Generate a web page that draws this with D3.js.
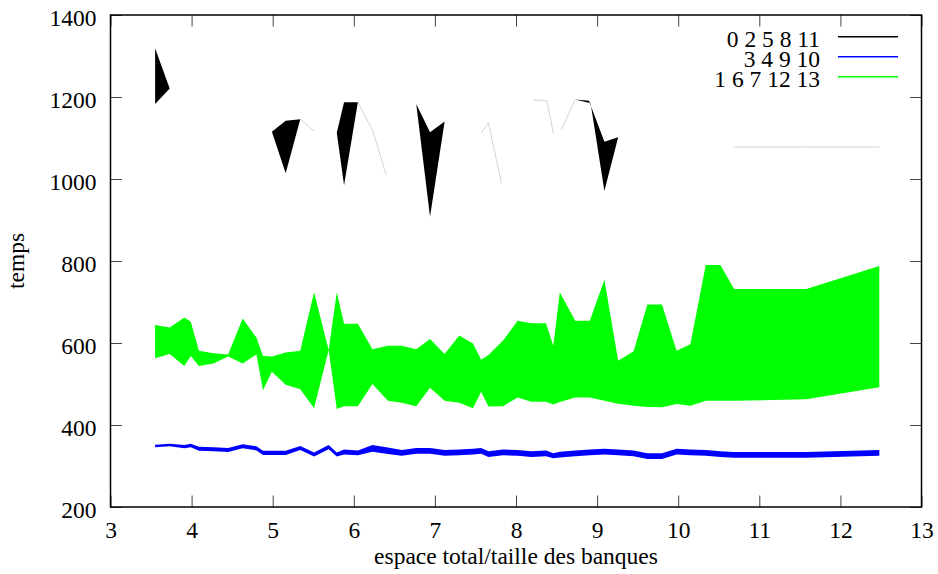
<!DOCTYPE html>
<html>
<head>
<meta charset="utf-8">
<script src="https://cdn.jsdelivr.net/npm/d3@7"></script>
<style>
  html, body { margin: 0; padding: 0; background: #fff; }
  svg { display: block; }
  text { font-family: "Liberation Serif", "DejaVu Serif", serif; fill: #000; }
</style>
</head>
<body>
<svg id="chart" width="938" height="574"></svg>
<script>
// x positions shared by the three bands (espace total / taille des banques)
const xs = [3.55, 3.73, 3.91, 3.99, 4.09, 4.27, 4.45, 4.63, 4.80, 4.88, 4.99, 5.16, 5.34, 5.51,
            5.69, 5.79, 5.88, 6.05, 6.23, 6.42, 6.59, 6.77, 6.94, 7.12, 7.30, 7.47, 7.57, 7.66,
            7.84, 8.02, 8.19, 8.37, 8.46, 8.54, 8.73, 8.91, 9.09, 9.26, 9.45, 9.62, 9.80, 9.98,
            10.15, 10.34, 10.52, 10.69, 11.58, 12.48];

// band "1 6 7 12 13" (green): upper and lower temps
const greenHi = [644, 638, 662, 652, 581, 575, 572, 660, 613, 568, 567, 577, 581, 724,
                 583, 724, 647, 647, 585, 593, 593, 585, 610, 573, 618, 599, 559, 571,
                 606, 654, 648, 648, 593, 724, 654, 654, 754, 557, 580, 694, 694, 581,
                 597, 790, 790, 732, 732, 788];
const greenLo = [563, 573, 544, 568, 544, 550, 567, 550, 572, 485, 530, 498, 487, 441,
                 583, 439, 446, 446, 500, 459, 454, 446, 491, 459, 454, 441, 481, 445,
                 446, 467, 457, 457, 450, 456, 467, 467, 459, 452, 447, 444, 443, 451,
                 447, 459, 459, 459, 463, 492];

// band "3 4 9 10" (blue)
const blueHi = [352, 354, 351, 354, 347, 346, 344, 353, 348, 337, 337, 337, 349, 333,
                351, 333, 340, 338, 351, 345, 339, 344, 344, 339, 340, 342, 344, 336,
                340, 339, 336, 338, 331, 335, 338, 340, 342, 340, 338, 331, 331, 342,
                340, 339, 336, 334, 334, 339];
const blueLo = [346, 348, 343, 346, 337, 336, 334, 343, 338, 327, 327, 327, 339, 323,
                341, 323, 328, 326, 335, 329, 325, 330, 330, 325, 326, 328, 330, 322,
                326, 325, 322, 324, 319, 321, 324, 326, 328, 326, 324, 317, 317, 328,
                326, 325, 322, 320, 320, 325];

// band "0 2 5 8 11" (black): the filled pieces, as [x, temps] outlines
const blackPieces = [
  [[3.55, 1319], [3.73, 1221], [3.55, 1183]],
  [[4.99, 1115], [5.16, 1142], [5.34, 1146], [5.16, 1014]],
  [[5.79, 1113], [5.88, 1187], [6.05, 1187], [5.88, 985]],
  [[6.77, 1183], [6.94, 1114], [7.12, 1140], [6.94, 908]],
  [[8.73, 1194], [8.90, 1191], [9.09, 1091], [9.26, 1102], [9.09, 971], [8.92, 1185]]
];
// hairline edges of the same band
const blackEdges = [
  [[5.34, 1146], [5.51, 1117]],
  [[6.05, 1187], [6.23, 1120], [6.40, 1010]],
  [[7.57, 1112], [7.66, 1137], [7.82, 990]],
  [[8.21, 1193], [8.38, 1191], [8.46, 1112]],
  [[8.56, 1120], [8.73, 1194]],
  [[10.69, 1078], [11.58, 1078], [12.48, 1078]]
];

const legendLabels = ["0 2 5 8 11", "3 4 9 10", "1 6 7 12 13"];
const legendColors = ["#000000", "#0000ff", "#00ff00"];
const xTicks = [3, 4, 5, 6, 7, 8, 9, 10, 11, 12, 13];
const yTicks = [200, 400, 600, 800, 1000, 1200, 1400];

const fontSize = 23.5;
const svg = d3.select("#chart");
const mLeft = 110.5, mRight = 921.5, mTop = 15, mBottom = 507;
const x = d3.scaleLinear().domain([3, 13]).range([mLeft, mRight]);
const y = d3.scaleLinear().domain([200, 1400]).range([mBottom, mTop]);

const plot = svg.append("g");
plot.append("clipPath").attr("id", "clip")
  .append("rect").attr("x", mLeft).attr("y", mTop)
  .attr("width", mRight - mLeft).attr("height", mBottom - mTop);
const layer = plot.append("g").attr("clip-path", "url(#clip)");

const rows = xs.map((v, i) => ({ x: v, gHi: greenHi[i], gLo: greenLo[i], bHi: blueHi[i], bLo: blueLo[i] }));

// black band pieces
const outline = d3.line().x(d => x(d[0])).y(d => y(d[1]));
layer.selectAll(".edge").data(blackEdges).join("path")
  .attr("class", "edge")
  .attr("d", outline)
  .attr("fill", "none").attr("stroke", "#d4d4d4").attr("stroke-width", 1);
layer.selectAll(".piece").data(blackPieces).join("path")
  .attr("class", "piece")
  .attr("d", d => outline(d) + "Z")
  .attr("fill", "#000");

// blue band
layer.append("path").datum(rows)
  .attr("d", d3.area().x(d => x(d.x)).y0(d => y(d.bLo)).y1(d => y(d.bHi)))
  .attr("fill", "#0000ff");

// green band
layer.append("path").datum(rows)
  .attr("d", d3.area().x(d => x(d.x)).y0(d => y(d.gLo)).y1(d => y(d.gHi)))
  .attr("fill", "#00ff00");

// axes: inward ticks on all four sides
const tickLen = 11.5;
const fmt = d3.format("d");
const axes = svg.append("g");
const bx = axes.append("g").attr("transform", `translate(0,${mBottom})`)
  .call(d3.axisBottom(x).tickValues(xTicks).tickFormat(fmt).tickSizeInner(-tickLen).tickSizeOuter(0));
axes.append("g").attr("transform", `translate(0,${mTop})`)
  .call(d3.axisTop(x).tickValues(xTicks).tickSizeInner(-tickLen).tickSizeOuter(0).tickFormat(""));
const ly = axes.append("g").attr("transform", `translate(${mLeft},0)`)
  .call(d3.axisLeft(y).tickValues(yTicks).tickFormat(fmt).tickSizeInner(-tickLen).tickSizeOuter(0).tickPadding(14));
axes.append("g").attr("transform", `translate(${mRight},0)`)
  .call(d3.axisRight(y).tickValues(yTicks).tickSizeInner(-tickLen).tickSizeOuter(0).tickFormat(""));
axes.selectAll(".domain").remove();
axes.selectAll(".tick line").attr("stroke", "#444").attr("stroke-width", 1);
axes.selectAll("text").attr("font-family", "Liberation Serif").attr("font-size", fontSize).attr("fill", "#000");
bx.selectAll(".tick text").attr("dy", null).attr("y", 30.5);
ly.selectAll(".tick text").attr("dy", null).attr("y", 10.5);

// frame
svg.append("rect").attr("x", mLeft).attr("y", mTop)
  .attr("width", mRight - mLeft).attr("height", mBottom - mTop)
  .attr("fill", "none").attr("stroke", "#000").attr("stroke-width", 1.5);

// axis titles
svg.append("text").attr("x", (mLeft + mRight) / 2).attr("y", 564)
  .attr("text-anchor", "middle").attr("font-size", fontSize)
  .text("espace total/taille des banques");
svg.append("text").attr("transform", `translate(23.5,${(mTop + mBottom) / 2}) rotate(-90)`)
  .attr("text-anchor", "middle").attr("font-size", fontSize)
  .text("temps");

// legend
const legend = svg.append("g");
legendLabels.forEach((label, i) => {
  const ly0 = 36.7 + i * 20;
  legend.append("text").attr("x", 820).attr("y", ly0 + 10)
    .attr("text-anchor", "end").attr("font-size", fontSize).text(label);
  legend.append("line").attr("x1", 838).attr("x2", 898).attr("y1", ly0).attr("y2", ly0)
    .attr("stroke", legendColors[i]).attr("stroke-width", 1.5);
});
</script>
</body>
</html>
